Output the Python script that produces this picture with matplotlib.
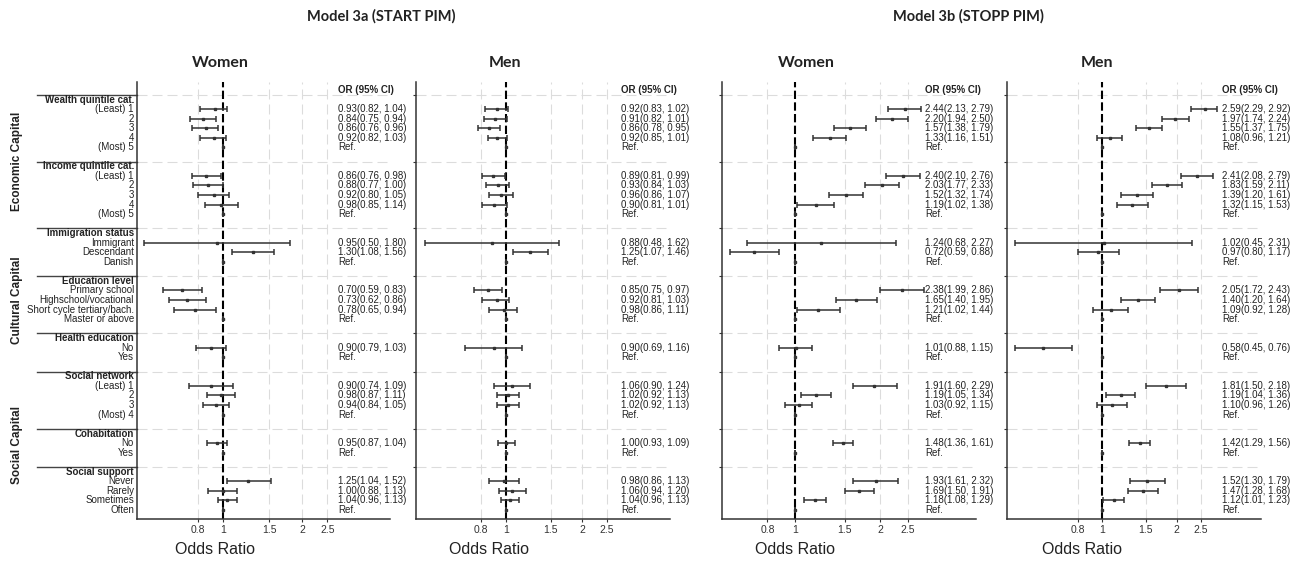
import numpy as np
import matplotlib.pyplot as plt
from matplotlib.ticker import NullLocator

plt.rcParams['font.family'] = ['Liberation Sans', 'DejaVu Sans']

# -------
# Data
# -------

groups = ["Wealth quintile cat.", "Income quintile cat.", "Immigration status",
          "Education level", "Health education", "Social network",
          "Cohabitation", "Social support"]

items = [["(Least) 1", "2", "3", "4", "(Most) 5"],
         ["(Least) 1", "2", "3", "4", "(Most) 5"],
         ["Immigrant", "Descendant", "Danish"],
         ["Primary school", "Highschool/vocational", "Short cycle tertiary/bach.", "Master or above"],
         ["No", "Yes"],
         ["(Least) 1", "2", "3", "(Most) 4"],
         ["No", "Yes"],
         ["Never", "Rarely", "Sometimes", "Often"]]

capitals = ["Economic Capital", "Cultural Capital", "Social Capital"]
capital_groups = [(0, 1), (2, 4), (5, 7)]   # first and last group index

# (OR, lower, upper); None = reference category
women_3a = [(0.93, 0.82, 1.04), (0.84, 0.75, 0.94), (0.86, 0.76, 0.96), (0.92, 0.82, 1.03), None,
            (0.86, 0.76, 0.98), (0.88, 0.77, 1.00), (0.92, 0.80, 1.05), (0.98, 0.85, 1.14), None,
            (0.95, 0.50, 1.80), (1.30, 1.08, 1.56), None,
            (0.70, 0.59, 0.83), (0.73, 0.62, 0.86), (0.78, 0.65, 0.94), None,
            (0.90, 0.79, 1.03), None,
            (0.90, 0.74, 1.09), (0.98, 0.87, 1.11), (0.94, 0.84, 1.05), None,
            (0.95, 0.87, 1.04), None,
            (1.25, 1.04, 1.52), (1.00, 0.88, 1.13), (1.04, 0.96, 1.13), None]

men_3a = [(0.92, 0.83, 1.02), (0.91, 0.82, 1.01), (0.86, 0.78, 0.95), (0.92, 0.85, 1.01), None,
          (0.89, 0.81, 0.99), (0.93, 0.84, 1.03), (0.96, 0.86, 1.07), (0.90, 0.81, 1.01), None,
          (0.88, 0.48, 1.62), (1.25, 1.07, 1.46), None,
          (0.85, 0.75, 0.97), (0.92, 0.81, 1.03), (0.98, 0.86, 1.11), None,
          (0.90, 0.69, 1.16), None,
          (1.06, 0.90, 1.24), (1.02, 0.92, 1.13), (1.02, 0.92, 1.13), None,
          (1.00, 0.93, 1.09), None,
          (0.98, 0.86, 1.13), (1.06, 0.94, 1.20), (1.04, 0.96, 1.13), None]

women_3b = [(2.44, 2.13, 2.79), (2.20, 1.94, 2.50), (1.57, 1.38, 1.79), (1.33, 1.16, 1.51), None,
            (2.40, 2.10, 2.76), (2.03, 1.77, 2.33), (1.52, 1.32, 1.74), (1.19, 1.02, 1.38), None,
            (1.24, 0.68, 2.27), (0.72, 0.59, 0.88), None,
            (2.38, 1.99, 2.86), (1.65, 1.40, 1.95), (1.21, 1.02, 1.44), None,
            (1.01, 0.88, 1.15), None,
            (1.91, 1.60, 2.29), (1.19, 1.05, 1.34), (1.03, 0.92, 1.15), None,
            (1.48, 1.36, 1.61), None,
            (1.93, 1.61, 2.32), (1.69, 1.50, 1.91), (1.18, 1.08, 1.29), None]

men_3b = [(2.59, 2.29, 2.92), (1.97, 1.74, 2.24), (1.55, 1.37, 1.75), (1.08, 0.96, 1.21), None,
          (2.41, 2.08, 2.79), (1.83, 1.59, 2.11), (1.39, 1.20, 1.61), (1.32, 1.15, 1.53), None,
          (1.02, 0.45, 2.31), (0.97, 0.80, 1.17), None,
          (2.05, 1.72, 2.43), (1.40, 1.20, 1.64), (1.09, 0.92, 1.28), None,
          (0.58, 0.45, 0.76), None,
          (1.81, 1.50, 2.18), (1.19, 1.04, 1.36), (1.10, 0.96, 1.26), None,
          (1.42, 1.29, 1.56), None,
          (1.52, 1.30, 1.79), (1.47, 1.28, 1.68), (1.12, 1.01, 1.23), None]

xticks = [0.8, 1, 1.5, 2, 2.5]
xtick_labels = ["0.8", "1", "1.5", "2", "2.5"]

# ----------------
# Row layout (row 0 = "OR (95% CI)" header, one blank row between groups)
# ----------------
header_r, item_r, sep_r = [], [], []
r = 1
for its in items:
    header_r.append(r)
    sep_r.append(r - 0.5)
    item_r += list(range(r + 1, r + 1 + len(its)))
    r += len(its) + 2
last_r = item_r[-1]

W, H = 1298, 561
fig = plt.figure(figsize=(W / 100, H / 100), dpi=100)

# panel pixel edges, x limits and text column position
panels = [
    (137, 390, (0.470, 4.33), 2.74, women_3a),
    (416, 670, (0.444, 4.42), 2.84, men_3a),
    (722, 976, (0.553, 4.36), 2.89, women_3b),
    (1007, 1261, (0.416, 4.37), 3.04, men_3b),
]
top_px, bot_px = 82, 519
ylim = (-(last_r + 0.94), 0.84)
ink = '#333333'

axes = []
for i, (l, rr, xl, tx, est) in enumerate(panels):
    ax = fig.add_axes([l / W, 1 - bot_px / H, (rr - l) / W, (bot_px - top_px) / H])
    axes.append(ax)
    ax.set_xscale('log')
    ax.set_xlim(*xl)
    ax.set_ylim(*ylim)

    # grid
    for t in xticks:
        if t != 1:
            ax.axvline(t, color='#dcdcdc', lw=0.8, ls=(0, (9, 4.5)), zorder=0)
    for s in sep_r:
        ax.axhline(-s, color='#dcdcdc', lw=0.8, ls=(0, (9, 4.5)), zorder=0)
    ax.axvline(1, color='black', lw=1.5, ls=(0, (4, 1.6)), zorder=2)

    ors = np.array([1.0 if e is None else e[0] for e in est])
    lo = np.array([1.0 if e is None else e[1] for e in est])
    hi = np.array([1.0 if e is None else e[2] for e in est])
    ys = -np.array(item_r)
    ax.errorbar(ors, ys, xerr=[ors - lo, hi - ors], fmt='s', ms=1.8, color=ink,
                ecolor=ink, elinewidth=1.1, capsize=2.5, capthick=1.1, zorder=3)

    # OR text column
    ax.text(tx, 0, "OR (95% CI)", fontsize=7, fontweight='bold', va='center', color='#222222')
    for e, y in zip(est, item_r):
        s = "Ref." if e is None else f"{e[0]:.2f}({e[1]:.2f}, {e[2]:.2f})"
        ax.text(tx, -y, s, fontsize=7, va='center', color='#222222')

    # axes styling
    for sp in ['top', 'right']:
        ax.spines[sp].set_visible(False)
    for sp in ['left', 'bottom']:
        ax.spines[sp].set_color(ink)
        ax.spines[sp].set_linewidth(1.1)
    ax.set_yticks([-s for s in sep_r])
    ax.set_yticklabels([])
    ax.set_xticks(xticks)
    ax.set_xticklabels(xtick_labels)
    ax.xaxis.set_minor_locator(NullLocator())
    ax.tick_params(axis='both', length=2.5, width=0.8, color=ink)
    ax.tick_params(axis='x', labelsize=7.5, pad=2, labelcolor=ink)

# row labels, separators and capital labels on the first panel
ax = axes[0]
trans = ax.get_yaxis_transform()
k = 0
for g, its, h in zip(groups, items, header_r):
    ax.text(-0.012, -h, g, transform=trans, ha='right', va='center',
            fontsize=7, fontweight='bold', color='#222222')
    for it in its:
        ax.text(-0.012, -item_r[k], it, transform=trans, ha='right', va='center',
                fontsize=7, color='#222222')
        k += 1
for s in sep_r:
    ax.plot([-0.394, 0], [-s, -s], transform=trans, clip_on=False, color='#444444', lw=1.0)

bounds = sep_r + [last_r + 0.94]
for cap, (g0, g1) in zip(capitals, capital_groups):
    yc = (bounds[g0] + bounds[g1 + 1]) / 2
    ax.text(-0.476, -yc, cap, transform=trans, rotation=90, ha='center', va='center',
            fontsize=8.5, fontweight='bold', color='#222222')

# titles
def px(x, y):
    return x / W, 1 - y / H

for x, label in [(381, "Model 3a (START PIM)"), (968, "Model 3b (STOPP PIM)")]:
    fig.text(*px(x, 16), label, ha='center', va='center', fontsize=10.5,
             fontweight='bold', family=['Lato', 'DejaVu Sans'], color='#222222')
for x, label in [(220, "Women"), (505, "Men"), (806, "Women"), (1097, "Men")]:
    fig.text(*px(x, 63), label, ha='center', va='center', fontsize=11.5,
             fontweight='bold', family=['Lato', 'DejaVu Sans'], color='#222222')
for x in [215, 489, 795, 1082]:
    fig.text(*px(x, 549), "Odds Ratio", ha='center', va='center', fontsize=11.5, color='#222222')

fig.savefig("out.png", dpi=100, facecolor='white')
